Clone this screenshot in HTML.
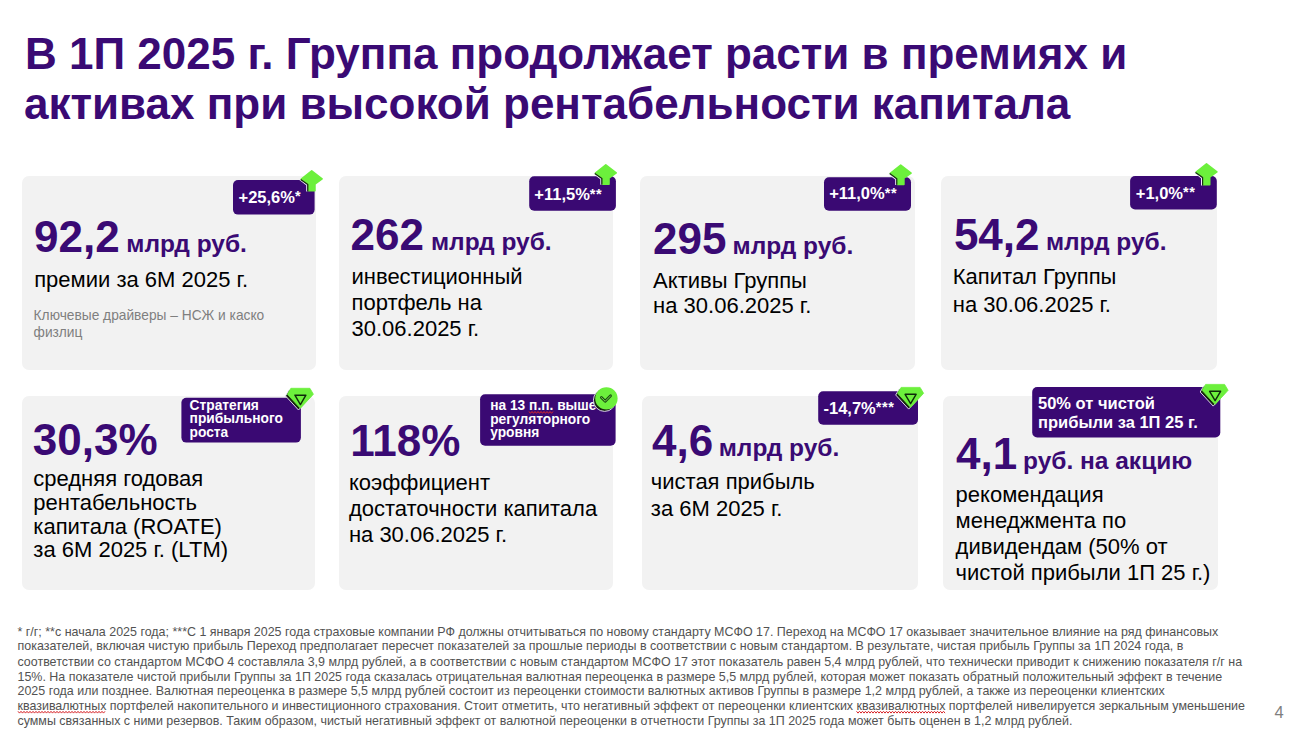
<!DOCTYPE html>
<html lang="ru">
<head>
<meta charset="utf-8">
<title>В 1П 2025 г. Группа продолжает расти</title>
<style>
html,body{margin:0;padding:0;background:#fff;}
body{width:1312px;height:736px;overflow:hidden;}
svg{display:block;}
text{font-family:"Liberation Sans","Noto Sans CJK SC",sans-serif;}
.t{font-weight:bold;font-size:44px;fill:#3a0a74;}
.n{font-weight:bold;font-size:44px;fill:#3a0a74;}
.u{font-weight:bold;font-size:24.5px;fill:#3a0a74;}
.d{font-size:22px;fill:#000;}
.s{font-size:13.75px;fill:#7f7f7f;}
.b{font-weight:bold;font-size:16.5px;fill:#fff;}
.bs{font-weight:bold;font-size:13.75px;fill:#fff;}
.f{font-size:12.46px;fill:#525252;}
.card{fill:#f2f2f2;}
.badge{fill:#3a0973;}
</style>
</head>
<body>
<svg width="1312" height="736" viewBox="0 0 1312 736">
<!-- title -->
<text class="t" x="25" y="69">В 1П 2025 г. Группа продолжает расти в премиях и</text>
<text class="t" x="24" y="118.5">активах при высокой рентабельности капитала</text>

<!-- cards -->
<rect class="card" x="22" y="176" width="294" height="194" rx="7"/>
<rect class="card" x="339" y="176" width="274" height="194" rx="7"/>
<rect class="card" x="640" y="176" width="275" height="194" rx="7"/>
<rect class="card" x="941" y="176" width="276" height="194" rx="7"/>
<rect class="card" x="22" y="396" width="293" height="194" rx="7"/>
<rect class="card" x="339" y="396" width="274" height="194" rx="7"/>
<rect class="card" x="642" y="396" width="276" height="194" rx="7"/>
<rect class="card" x="943" y="396" width="275" height="194" rx="7"/>

<!-- card 1 -->
<text class="n" x="34" y="252.2">92,2</text>
<text class="u" x="126.3" y="252.2">млрд руб.</text>
<text class="d" x="34.2" y="287">премии за 6М 2025 г.</text>
<text class="s" x="33.6" y="320">Ключевые драйверы – НСЖ и каско</text>
<text class="s" x="33.6" y="336.8">физлиц</text>

<!-- card 2 -->
<text class="n" x="350.6" y="250">262</text>
<text class="u" x="431" y="250">млрд руб.</text>
<text class="d" x="351.5" y="283.5">инвестиционный</text>
<text class="d" x="351.5" y="309.6">портфель на</text>
<text class="d" x="351.5" y="336.2">30.06.2025 г.</text>

<!-- card 3 -->
<text class="n" x="653" y="253.5">295</text>
<text class="u" x="732.6" y="253.5">млрд руб.</text>
<text class="d" x="653.1" y="288.1">Активы Группы</text>
<text class="d" x="653.1" y="313.4">на 30.06.2025 г.</text>

<!-- card 4 -->
<text class="n" x="953.9" y="250.3">54,2</text>
<text class="u" x="1045.9" y="250.3">млрд руб.</text>
<text class="d" x="952.8" y="283.5">Капитал Группы</text>
<text class="d" x="952.8" y="311.5">на 30.06.2025 г.</text>

<!-- card 5 -->
<text class="n" x="32.8" y="454.6">30,3%</text>
<text class="d" x="33.3" y="486.0">средняя годовая</text>
<text class="d" x="33.3" y="509.9">рентабельность</text>
<text class="d" x="33.3" y="533.8">капитала (ROATE)</text>
<text class="d" x="33.3" y="557.0">за 6М 2025 г. (LTM)</text>

<!-- card 6 -->
<text class="n" x="350.3" y="456.3">118%</text>
<text class="d" x="348.9" y="490.3">коэффициент</text>
<text class="d" x="348.9" y="516.0">достаточности капитала</text>
<text class="d" x="348.9" y="541.7">на 30.06.2025 г.</text>

<!-- card 7 -->
<text class="n" x="652" y="455.6">4,6</text>
<text class="u" x="718.7" y="455.6">млрд руб.</text>
<text class="d" x="650.8" y="489.1">чистая прибыль</text>
<text class="d" x="650.8" y="515.6">за 6М 2025 г.</text>

<!-- card 8 -->
<text class="n" x="956.1" y="468.5">4,1</text>
<text class="u" x="1023" y="468.5">руб. на акцию</text>
<text class="d" x="955.6" y="502.0">рекомендация</text>
<text class="d" x="955.6" y="528.1">менеджмента по</text>
<text class="d" x="955.6" y="554.4">дивидендам (50% от</text>
<text class="d" x="955.6" y="580.1">чистой прибыли 1П 25 г.)</text>

<!-- badges -->
<rect class="badge" x="233" y="180" width="81.6" height="34.6" rx="5"/>
<text class="b" x="238.5" y="202.6">+25,6%<tspan font-size="14.5" dy="-1.3" letter-spacing="0.6">*</tspan></text>
<rect class="badge" x="529.2" y="176.2" width="86.7" height="34.6" rx="5"/>
<text class="b" x="534.3" y="199.8">+11,5%<tspan font-size="14.5" dy="-1.3" letter-spacing="0.6">**</tspan></text>
<rect class="badge" x="824" y="177.2" width="87" height="33.5" rx="5"/>
<text class="b" x="829.2" y="199.4">+11,0%<tspan font-size="14.5" dy="-1.3" letter-spacing="0.6">**</tspan></text>
<rect class="badge" x="1130.1" y="176" width="86.7" height="33.5" rx="5"/>
<text class="b" x="1135.8" y="198.6">+1,0%<tspan font-size="14.5" dy="-1.3" letter-spacing="0.6">**</tspan></text>

<rect class="badge" x="181.4" y="397.8" width="119.5" height="44.8" rx="5"/>
<text class="bs" x="189.6" y="409.5">Стратегия</text>
<text class="bs" x="189.6" y="422.9">прибыльного</text>
<text class="bs" x="189.6" y="436.5">роста</text>

<rect class="badge" x="480.1" y="394.3" width="135.5" height="51.4" rx="5"/>
<text class="bs" x="490.2" y="409.7">на 13 п.п. выше</text>
<text class="bs" x="490.2" y="424">регуляторного</text>
<text class="bs" x="490.2" y="437.2">уровня</text>

<rect class="badge" x="818.2" y="391.3" width="99.8" height="33.4" rx="5"/>
<text class="b" x="823.5" y="413.7">-14,7%<tspan font-size="14.5" dy="-1.3" letter-spacing="0.6">***</tspan></text>

<rect class="badge" x="1032.2" y="387" width="188.1" height="50.4" rx="5"/>
<text class="b" x="1038" y="408.9">50% от чистой</text>
<text class="b" x="1038" y="427.8">прибыли за 1П 25 г.</text>

<!-- spell marks -->
<polyline points="18.0,711.3 19.5,713.1 21.0,711.3 22.5,713.1 24.0,711.3 25.5,713.1 27.0,711.3 28.5,713.1 30.0,711.3 31.5,713.1 33.0,711.3 34.5,713.1 36.0,711.3 37.5,713.1 39.0,711.3 40.5,713.1 42.0,711.3 43.5,713.1 45.0,711.3 46.5,713.1 48.0,711.3 49.5,713.1 51.0,711.3 52.5,713.1 54.0,711.3 55.5,713.1 57.0,711.3 58.5,713.1 60.0,711.3 61.5,713.1 63.0,711.3 64.5,713.1 66.0,711.3 67.5,713.1 69.0,711.3 70.5,713.1 72.0,711.3 73.5,713.1 75.0,711.3 76.5,713.1 78.0,711.3 79.5,713.1 81.0,711.3 82.5,713.1 84.0,711.3 85.5,713.1 87.0,711.3 88.5,713.1 90.0,711.3 91.5,713.1 93.0,711.3 94.5,713.1 96.0,711.3 97.5,713.1 99.0,711.3 100.5,713.1 102.0,711.3 103.5,713.1 105.0,711.3" fill="none" stroke="#d8282c" stroke-width="1"/>
<polyline points="856.5,711.3 858.0,713.1 859.5,711.3 861.0,713.1 862.5,711.3 864.0,713.1 865.5,711.3 867.0,713.1 868.5,711.3 870.0,713.1 871.5,711.3 873.0,713.1 874.5,711.3 876.0,713.1 877.5,711.3 879.0,713.1 880.5,711.3 882.0,713.1 883.5,711.3 885.0,713.1 886.5,711.3 888.0,713.1 889.5,711.3 891.0,713.1 892.5,711.3 894.0,713.1 895.5,711.3 897.0,713.1 898.5,711.3 900.0,713.1 901.5,711.3 903.0,713.1 904.5,711.3 906.0,713.1 907.5,711.3 909.0,713.1 910.5,711.3 912.0,713.1 913.5,711.3 915.0,713.1 916.5,711.3 918.0,713.1 919.5,711.3 921.0,713.1 922.5,711.3 924.0,713.1 925.5,711.3 927.0,713.1 928.5,711.3 930.0,713.1 931.5,711.3 933.0,713.1 934.5,711.3 936.0,713.1 937.5,711.3 939.0,713.1 940.5,711.3 942.0,713.1 943.5,711.3 945.0,713.1" fill="none" stroke="#d8282c" stroke-width="1"/>
<polyline points="529.0,411.5 530.5,413.3 532.0,411.5 533.5,413.3 535.0,411.5 536.5,413.3 538.0,411.5 539.5,413.3 541.0,411.5 542.5,413.3 544.0,411.5 545.5,413.3 547.0,411.5 548.5,413.3 550.0,411.5 551.5,413.3 553.0,411.5" fill="none" stroke="#d8282c" stroke-width="1"/>

<!-- icons -->
<g transform="translate(311.7,170)"><polyline points="-12.0,9.6 -4.9,15.0 -4.9,21.4" fill="none" stroke="#f2ecff" stroke-width="1.2" stroke-linejoin="round"/><polygon points="0.0,0.9 10.4,8.9 3.2,14.0 3.2,20.8 -3.2,20.8 -3.2,14.2 -10.4,9.1" fill="#6cf03c" stroke="#6cf03c" stroke-width="1.6" stroke-linejoin="round"/><polyline points="-11.0,9.4 -3.9,14.6 -3.9,21.2" fill="none" stroke="#18300f" stroke-width="1.2" stroke-linejoin="round"/></g>
<g transform="translate(605.8,164)"><polyline points="-12.0,9.6 -4.9,15.0 -4.9,20.8" fill="none" stroke="#f2ecff" stroke-width="1.2" stroke-linejoin="round"/><polygon points="0.0,0.9 10.4,8.9 3.2,14.0 3.2,20.2 -3.2,20.2 -3.2,14.2 -10.4,9.1" fill="#6cf03c" stroke="#6cf03c" stroke-width="1.6" stroke-linejoin="round"/><polyline points="-11.0,9.4 -3.9,14.6 -3.9,20.6" fill="none" stroke="#18300f" stroke-width="1.2" stroke-linejoin="round"/></g>
<g transform="translate(900.7,164.2)"><polyline points="-12.0,9.6 -4.9,15.0 -4.9,20.8" fill="none" stroke="#f2ecff" stroke-width="1.2" stroke-linejoin="round"/><polygon points="0.0,0.9 10.4,8.9 3.2,14.0 3.2,20.2 -3.2,20.2 -3.2,14.2 -10.4,9.1" fill="#6cf03c" stroke="#6cf03c" stroke-width="1.6" stroke-linejoin="round"/><polyline points="-11.0,9.4 -3.9,14.6 -3.9,20.6" fill="none" stroke="#18300f" stroke-width="1.2" stroke-linejoin="round"/></g>
<g transform="translate(1206.5,163)"><polyline points="-12.0,9.6 -4.9,15.0 -4.9,22.4" fill="none" stroke="#f2ecff" stroke-width="1.2" stroke-linejoin="round"/><polygon points="0.0,0.9 10.4,8.9 3.2,14.0 3.2,21.8 -3.2,21.8 -3.2,14.2 -10.4,9.1" fill="#6cf03c" stroke="#6cf03c" stroke-width="1.6" stroke-linejoin="round"/><polyline points="-11.0,9.4 -3.9,14.6 -3.9,22.2" fill="none" stroke="#18300f" stroke-width="1.2" stroke-linejoin="round"/></g>
<g transform="translate(300.4,388.3)"><polygon points="-9.5,0.0 9.5,0.0 13.0,5.9 0.0,20.0 -13.0,5.9" transform="translate(-1.9,1.7)" fill="#16240f" stroke="#efe6ff" stroke-width="0.9" stroke-linejoin="round"/><polygon points="-9.5,0.0 9.5,0.0 13.0,5.9 0.0,20.0 -13.0,5.9" fill="#6cf03c" stroke="#6cf03c" stroke-width="0.8" stroke-linejoin="round"/><polygon points="-5.5,6.9 5.5,6.9 0,16.3" fill="none" stroke="#0f2a0a" stroke-width="1.4" stroke-linejoin="round"/></g>
<g transform="translate(606.4,398.4)"><circle cx="-1.8" cy="1.8" r="11.2" fill="#16240f" stroke="#efe6ff" stroke-width="0.9"/><circle cx="0" cy="0" r="11.2" fill="#6cf03c"/><polyline points="-5.0,-0.8 -1.2,2.9 4.2,-2.6" fill="none" stroke="#1a4a12" stroke-width="2.8" stroke-linejoin="round" stroke-linecap="round"/><polyline points="-5.0,-0.8 -1.2,2.9 4.2,-2.6" fill="none" stroke="#80f050" stroke-width="0.9" stroke-linejoin="round" stroke-linecap="round"/></g>
<g transform="translate(910.6,387.4)"><polygon points="-9.5,0.0 9.5,0.0 13.0,5.9 0.0,20.0 -13.0,5.9" transform="translate(-1.9,1.7)" fill="#16240f" stroke="#efe6ff" stroke-width="0.9" stroke-linejoin="round"/><polygon points="-9.5,0.0 9.5,0.0 13.0,5.9 0.0,20.0 -13.0,5.9" fill="#6cf03c" stroke="#6cf03c" stroke-width="0.8" stroke-linejoin="round"/><polygon points="-5.5,6.9 5.5,6.9 0,16.3" fill="none" stroke="#0f2a0a" stroke-width="1.4" stroke-linejoin="round"/></g>
<g transform="translate(1215.1,384.4)"><polygon points="-9.5,0.0 9.5,0.0 13.0,5.9 0.0,20.0 -13.0,5.9" transform="translate(-1.9,1.7)" fill="#16240f" stroke="#efe6ff" stroke-width="0.9" stroke-linejoin="round"/><polygon points="-9.5,0.0 9.5,0.0 13.0,5.9 0.0,20.0 -13.0,5.9" fill="#6cf03c" stroke="#6cf03c" stroke-width="0.8" stroke-linejoin="round"/><polygon points="-5.5,6.9 5.5,6.9 0,16.3" fill="none" stroke="#0f2a0a" stroke-width="1.4" stroke-linejoin="round"/></g>

<!-- footnote -->
<g class="f">
<text class="f" x="17.5" y="635.5">* г/г; **с начала 2025 года; ***С 1 января 2025 года страховые компании РФ должны отчитываться по новому стандарту МСФО 17. Переход на МСФО 17 оказывает значительное влияние на ряд финансовых</text>
<text class="f" x="17.5" y="650.3">показателей, включая чистую прибыль Переход предполагает пересчет показателей за прошлые периоды в соответствии с новым стандартом. В результате, чистая прибыль Группы за 1П 2024 года, в</text>
<text class="f" x="17.5" y="665.5">соответствии со стандартом МСФО 4 составляла 3,9 млрд рублей, а в соответствии с новым стандартом МСФО 17 этот показатель равен 5,4 млрд рублей, что технически приводит к снижению показателя г/г на</text>
<text class="f" x="17.5" y="680.6">15%. На показателе чистой прибыли Группы за 1П 2025 года сказалась отрицательная валютная переоценка в размере 5,5 млрд рублей, которая может показать обратный положительный эффект в течение</text>
<text class="f" x="17.5" y="695.4">2025 года или позднее. Валютная переоценка в размере 5,5 млрд рублей состоит из переоценки стоимости валютных активов Группы в размере 1,2 млрд рублей, а также из переоценки клиентских</text>
<text class="f" x="17.5" y="710.2">квазивалютных портфелей накопительного и инвестиционного страхования. Стоит отметить, что негативный эффект от переоценки клиентских квазивалютных портфелей нивелируется зеркальным уменьшение</text>
<text class="f" x="17.5" y="724.6">суммы связанных с ними резервов. Таким образом, чистый негативный эффект от валютной переоценки в отчетности Группы за 1П 2025 года может быть оценен в 1,2 млрд рублей.</text>
</g>
<text x="1274.5" y="717.7" font-size="16.5" fill="#7f7f7f">4</text>
</svg>
</body>
</html>
